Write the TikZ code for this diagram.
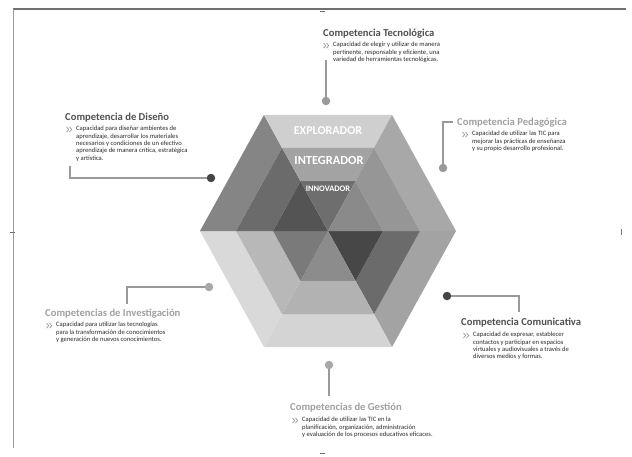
\documentclass[tikz,border=0pt]{standalone}
\usepackage{fontspec}
\setmainfont{Carlito}
\usetikzlibrary{positioning,calc}

\definecolor{titleDark}{HTML}{505050}
\definecolor{titleLight}{HTML}{A0A0A0}
\definecolor{descText}{HTML}{2A2A2A}
\definecolor{lineGray}{HTML}{9A9A9A}
\definecolor{dotDark}{HTML}{454545}
\definecolor{dotLight}{HTML}{A8A8A8}
\definecolor{frameGray}{HTML}{707070}

% small double chevron in front of each description
\newcommand\dblChev[1]{%
  \draw[lineGray,line width=0.7pt] ([xshift=-9.5pt,yshift=-1pt]#1.north west) -- ++(2.2,2.6) -- ++(-2.2,2.6)
    ([xshift=-6.5pt,yshift=-1pt]#1.north west) -- ++(2.2,2.6) -- ++(-2.2,2.6);}

\begin{document}
\begin{tikzpicture}[x=1pt,y=-1pt,
  compTitle/.style={anchor=base west,inner sep=0pt,font=\fontsize{10.6}{12}\selectfont\bfseries},
  compText/.style={inner sep=0pt,align=left,text=descText,font=\fontsize{6.6}{7.4}\selectfont},
  endDot/.style={circle,inner sep=0pt,minimum size=8.5pt},
  link/.style={draw=lineGray,line width=1.1pt},
  level/.style={text=white,font=\bfseries}]
\useasboundingbox (0,0) rectangle (632,456);

% frame
\coordinate (frA) at (13,9);
\coordinate (frB) at (626,9);
\coordinate (frC) at (13,448);
\draw[frameGray,line width=1.6pt] (frA) -- (frB);
\draw[frameGray!70,line width=1pt] (frA) -- (frC);
\draw[frameGray,line width=0.8pt] (320,11) -- (325,11) (320,453) -- (325,453)
  (10,232) -- (15,232) (621,229) -- (621,235);

% hexagon
\coordinate (hc) at (328,231);
\foreach \a/\po/\pm/\pi in {0/36/58/72, 60/17/30/45, 120/15/28/52,
  180/48/58/67, 240/19/36/57, 300/34/41/46}{
  \pgfmathsetmacro\b{\a+60}
  \fill[black!\po] ($(hc)+(\a:128 and 134)$) -- ($(hc)+(\b:128 and 134)$)
    -- ($(hc)+(\b:92 and 96)$) -- ($(hc)+(\a:92 and 96)$) -- cycle;
  \fill[black!\pm] ($(hc)+(\a:92 and 96)$) -- ($(hc)+(\b:92 and 96)$)
    -- ($(hc)+(\b:55 and 57.5)$) -- ($(hc)+(\a:55 and 57.5)$) -- cycle;
  \fill[black!\pi] (hc) -- ($(hc)+(\a:55 and 57.5)$) -- ($(hc)+(\b:55 and 57.5)$) -- cycle;
}
\node[level,font=\fontsize{12}{12}\selectfont\bfseries] (explo) at (328,131) {EXPLORADOR};
\node[level,font=\fontsize{12.4}{12}\selectfont\bfseries] (integ) at (329,160) {INTEGRADOR};
\node[level,font=\fontsize{8.4}{8}\selectfont\bfseries] (innov) at (328,189) {INNOVADOR};

% Tecnologica
\node[compTitle,text=titleDark] (tecT) at (323,36) {Competencia Tecnológica};
\node[compText,below right=4pt and 10pt of tecT.south west] (tecD)
  {Capacidad de elegir y utilizar de manera\\pertinente, responsable y eficiente, una\\variedad de herramientas tecnológicas.};
\dblChev{tecD}
\node[endDot,fill=lineGray] (tecDot) at (326,101) {};
\coordinate (tecC) at (326,60);
\draw[link] (tecDot) -- (tecC);

% Pedagogica
\node[compTitle,text=titleLight] (pedT) at (457,125) {Competencia Pedagógica};
\node[compText,below right=4pt and 15pt of pedT.south west] (pedD)
  {Capacidad de utilizar las TIC para\\mejorar las prácticas de enseñanza\\y su propio desarrollo profesional.};
\dblChev{pedD}
\node[endDot,fill=lineGray] (pedDot) at (443,168) {};
\coordinate (pedC) at (443,122);
\coordinate (pedE) at (453,122);
\draw[link] (pedDot) -- (pedC) -- (pedE);

% Diseno
\node[compTitle,text=titleDark] (disT) at (65,120) {Competencia de Diseño};
\node[compText,below right=4pt and 11pt of disT.south west] (disD)
  {Capacidad para diseñar ambientes de\\aprendizaje, desarrollar los materiales\\necesarios y condiciones de un efectivo\\aprendizaje de manera crítica, estratégica\\y artística.};
\dblChev{disD}
\node[endDot,fill=dotDark] (disDot) at (211,178) {};
\coordinate (disC) at (70,178);
\coordinate (disE) at (70,166);
\draw[link] (disDot) -- (disC) -- (disE);

% Investigacion
\node[compTitle,text=titleLight] (invT) at (45,316) {Competencias de Investigación};
\node[compText,below right=4pt and 11pt of invT.south west] (invD)
  {Capacidad para utilizar las tecnologías\\para la transformación de conocimientos\\y generación de nuevos conocimientos.};
\dblChev{invD}
\node[endDot,fill=dotLight] (invDot) at (209,287) {};
\coordinate (invC) at (127,287);
\coordinate (invE) at (127,304);
\draw[link] (invDot) -- (invC) -- (invE);

% Comunicativa
\node[compTitle,text=titleDark] (comT) at (461,325) {Competencia Comunicativa};
\node[compText,below right=5pt and 12pt of comT.south west] (comD)
  {Capacidad de expresar, establecer\\contactos y participar en espacios\\virtuales y audiovisuales a través de\\diversos medios y formas.};
\dblChev{comD}
\node[endDot,fill=dotDark] (comDot) at (447,296) {};
\coordinate (comC) at (519,296);
\coordinate (comE) at (519,312);
\draw[link] (comDot) -- (comC) -- (comE);

% Gestion
\node[compTitle,text=titleLight] (gesT) at (290,410) {Competencias de Gestión};
\node[compText,below right=5pt and 12pt of gesT.south west] (gesD)
  {Capacidad de utilizar las TIC en la\\planificación, organización, administración\\y evaluación de los procesos educativos eficaces.};
\dblChev{gesD}
\node[endDot,fill=dotLight] (gesDot) at (329,365) {};
\coordinate (gesC) at (329,396);
\draw[link] (gesDot) -- (gesC);
\end{tikzpicture}
\end{document}
